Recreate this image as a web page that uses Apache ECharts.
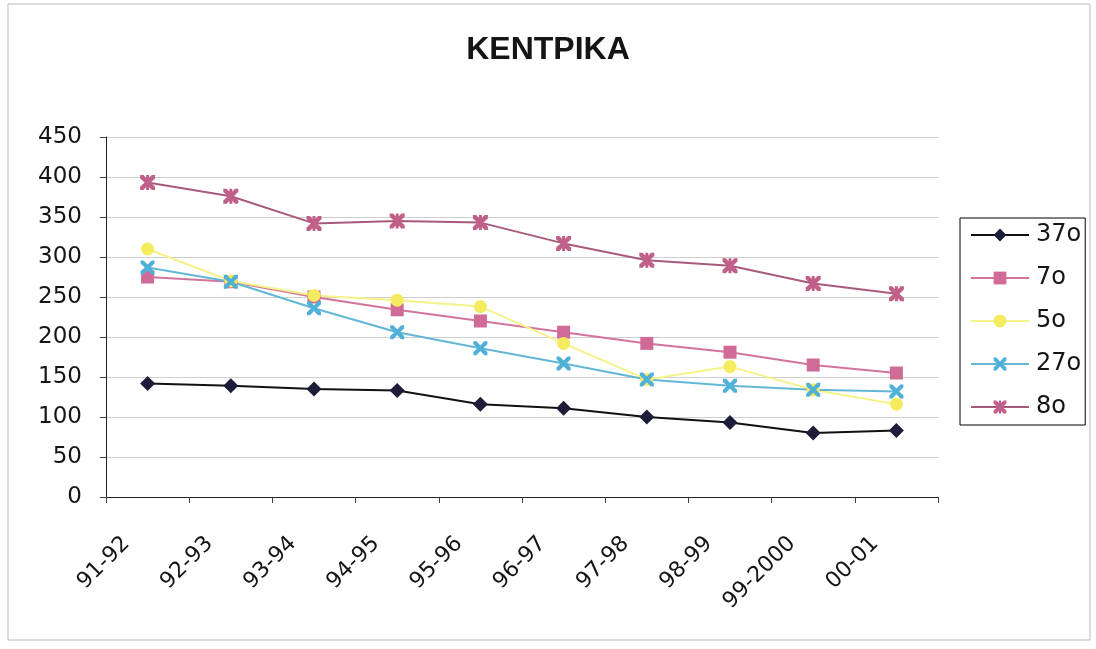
<!DOCTYPE html>
<html>
<head>
<meta charset="utf-8">
<script src="https://cdn.jsdelivr.net/npm/echarts@6/dist/echarts.min.js"></script>
<style>
html,body{margin:0;padding:0;background:#fff;}
#c{width:1096px;height:649px;}
</style>
</head>
<body>
<div id="c"></div>
<script>
const categories = ['91-92','92-93','93-94','94-95','95-96','96-97','97-98','98-99','99-2000','00-01'];
const seriesNames = ['37o','7o','5o','27o','8o'];
const s37 = [142, 139, 135, 133, 116, 111, 100, 93, 80, 83];
const s7  = [275, 269, 250, 234, 220, 206, 192, 181, 165, 155];
const s5  = [310, 270, 252, 246, 238, 192, 147, 163, 134, 116];
const s27 = [287, 269, 236, 206, 186, 167, 147, 139, 134, 132];
const s8  = [393, 376, 342, 345, 343, 317, 296, 289, 267, 254];
const yTicks = [0, 50, 100, 150, 200, 250, 300, 350, 400, 450];

const X_PATH = 'path://M0,0 L2.2,0 L5,3 L7.8,0 L10,0 L10,2.2 L7,5 L10,7.8 L10,10 L7.8,10 L5,7 L2.2,10 L0,10 L0,7.8 L3,5 L0,2.2 Z';
const STAR_PATH = 'path://M0,0 L2.2,0 L5,3 L7.8,0 L10,0 L10,2.2 L7,5 L10,7.8 L10,10 L7.8,10 L5,7 L2.2,10 L0,10 L0,7.8 L3,5 L0,2.2 Z M4,0 L6,0 L6,10 L4,10 Z';

const FONT = 'Liberation Sans, Arial, sans-serif';
const WFONT = 'DejaVu Sans, Liberation Sans, sans-serif';

function mk(name, data, lineColor, markColor, symbol, size) {
  return {
    name: name, type: 'line', data: data,
    symbol: symbol, symbolSize: size,
    lineStyle: {color: lineColor, width: 2},
    itemStyle: {color: markColor, borderWidth: 0},
    emphasis: {disabled: true},
    animation: false
  };
}

const chart = echarts.init(document.getElementById('c'), null, {renderer: 'canvas'});
chart.setOption({
  backgroundColor: '#fff',
  animation: false,
  title: {
    text: 'KENTPIKA', left: 'center', top: 29,
    textStyle: {fontFamily: FONT, fontSize: 32, fontWeight: 'bold', color: '#151515'}
  },
  legend: {
    orient: 'vertical', left: 960, top: 218,
    data: seriesNames,
    itemWidth: 58, itemHeight: 16, itemGap: 19,
    padding: [5, 4, 6, 10],
    borderColor: '#000', borderWidth: 1,
    textStyle: {fontFamily: WFONT, fontSize: 24, color: '#151515', padding: [0,0,0,2]}
  },
  grid: {left: 106, right: 158, top: 137, bottom: 152, containLabel: false},
  xAxis: {
    type: 'category', data: categories, boundaryGap: true,
    axisLine: {lineStyle: {color: '#222', width: 1}},
    axisTick: {show: true, length: 6, lineStyle: {color: '#444'}},
    axisLabel: {rotate: 45, fontFamily: WFONT, fontSize: 22, color: '#151515', margin: 22,
      padding: [0, 30, 0, 0], interval: 0},
    splitLine: {show: false}
  },
  yAxis: {
    type: 'value', min: 0, max: 450, interval: 50,
    axisLine: {show: true, lineStyle: {color: '#222', width: 1}},
    axisTick: {show: true, length: 6, lineStyle: {color: '#444'}},
    axisLabel: {fontFamily: WFONT, fontSize: 23, color: '#151515', margin: 24,
      formatter: function(v){ return yTicks.indexOf(v) >= 0 ? String(v) : ''; }},
    splitLine: {show: true, lineStyle: {color: '#cfcfcf', width: 1}}
  },
  series: [
    mk(seriesNames[0], s37, '#111111', '#1d1d3a', 'diamond', 15),
    mk(seriesNames[1], s7, '#d2749c', '#d06a96', 'rect', 13),
    mk(seriesNames[2], s5, '#f6f28a', '#f4ec5e', 'circle', 13),
    mk(seriesNames[3], s27, '#63b7d6', '#4fb0d8', X_PATH, 14),
    mk(seriesNames[4], s8, '#a85a7c', '#c06088', STAR_PATH, 15)
  ],
  graphic: [{
    type: 'rect', shape: {x: 8, y: 4, width: 1082, height: 636},
    style: {fill: 'none', stroke: '#bbb', lineWidth: 1}, silent: true
  }]
});
</script>
</body>
</html>
